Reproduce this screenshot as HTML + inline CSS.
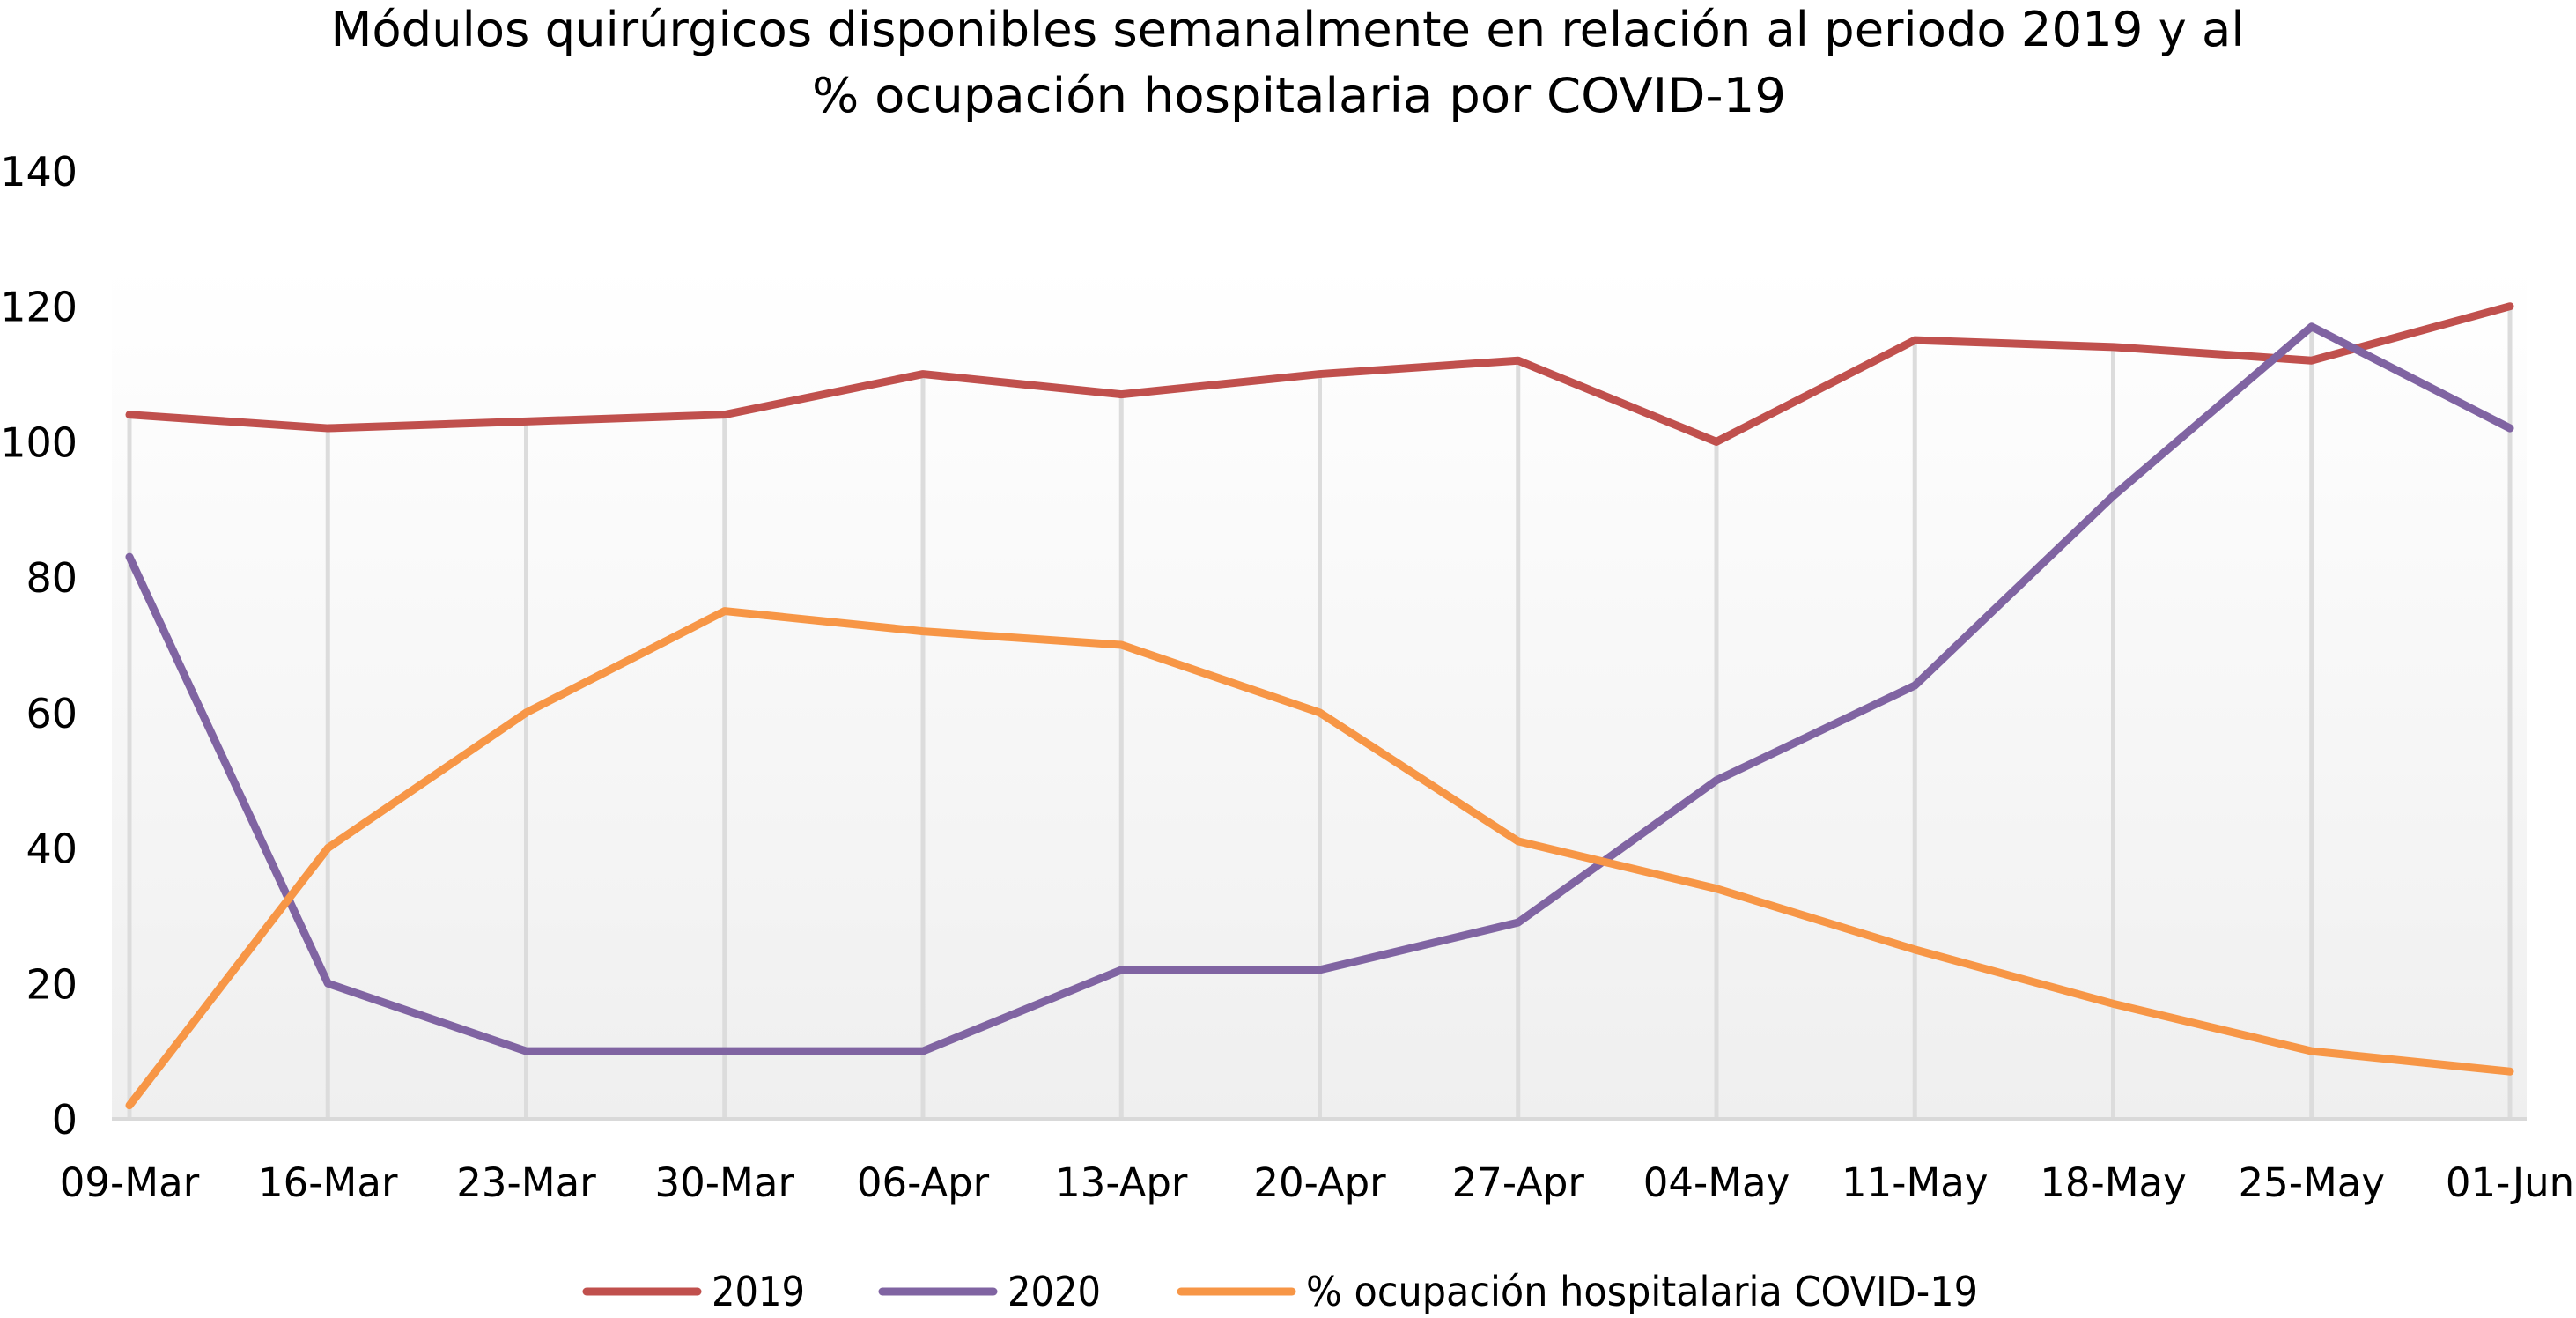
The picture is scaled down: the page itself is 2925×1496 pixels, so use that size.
<!DOCTYPE html>
<html><head><meta charset="utf-8">
<style>
html,body{margin:0;padding:0;background:#fff;}
svg{display:block;font-family:"DejaVu Sans","Liberation Sans",sans-serif;}
</style></head>
<body>
<svg id="chart" width="2925" height="1496" viewBox="0 0 2925 1496">
<defs>
<linearGradient id="bg" x1="0" y1="0" x2="0" y2="1">
<stop offset="0" stop-color="#ffffff"/>
<stop offset="1" stop-color="#efefef"/>
</linearGradient>
</defs>
<text x="1462" y="52" text-anchor="middle" font-size="54" fill="#000" textLength="2173" lengthAdjust="spacingAndGlyphs">Módulos quirúrgicos disponibles semanalmente en relación al periodo 2019 y al</text>
<text x="1475" y="127" text-anchor="middle" font-size="54" fill="#000" textLength="1106" lengthAdjust="spacingAndGlyphs">% ocupación hospitalaria por COVID-19</text>
<rect x="127" y="300" width="2742" height="970" fill="url(#bg)"/>
<g id="grid"></g>
<g id="yticks"></g>
<g id="xticks"></g>
<g id="series"></g>
<g id="legend"></g>
</svg>
<script>
const categories = ["09-Mar","16-Mar","23-Mar","30-Mar","06-Apr","13-Apr","20-Apr","27-Apr","04-May","11-May","18-May","25-May","01-Jun"];
const values2019 = [104,102,103,104,110,107,110,112,100,115,114,112,120];
const values2020 = [83,20,10,10,10,22,22,29,50,64,92,117,102];
const valuesCovid = [2,40,60,75,72,70,60,41,34,25,17,10,7];
const yTicks = [0,20,40,60,80,100,120,140];
const seriesNames = ["2019","2020","% ocupación hospitalaria COVID-19"];

const NS = "http://www.w3.org/2000/svg";
const x0 = 147, x1 = 2850, yZero = 1270, yTop = 194, yMax = 140;
function xPos(i){ return x0 + i*(x1-x0)/(categories.length-1); }
function yPos(v){ return yZero - v*(yZero-yTop)/yMax; }
function mk(tag, attrs, parent){ const e=document.createElementNS(NS,tag); for(const k in attrs) e.setAttribute(k,attrs[k]); parent.appendChild(e); return e; }

const grid=document.getElementById('grid');
categories.forEach((c,i)=>{
  const top=Math.max(values2019[i],values2020[i],valuesCovid[i]);
  const l=mk('line',{x1:xPos(i),x2:xPos(i),y1:yPos(top),y2:yZero,stroke:'#dcdcdc','stroke-width':5},grid);
  
  
});
const ax=mk('line',{x1:127,x2:2869,y1:yZero,y2:yZero,stroke:'#d9d9d9','stroke-width':4},grid);



const yt=document.getElementById('yticks');
yTicks.forEach(v=>{
  const t=mk('text',{x:88,y:yPos(v)+17,'text-anchor':'end','font-size':46,fill:'#000'},yt);
  t.textContent=v;
  
  
});
const xt=document.getElementById('xticks');
categories.forEach((c,i)=>{
  const t=mk('text',{x:xPos(i),y:1358,'text-anchor':'middle','font-size':45,fill:'#000'},xt);
  t.textContent=c;
  
  
});

const colors=['#c0504d','#8064a2','#f79646'];
const data=[values2019,values2020,valuesCovid];
const sg=document.getElementById('series');
data.forEach((arr,s)=>{
  const pts=arr.map((v,i)=>xPos(i)+','+yPos(v)).join(' ');
  const p=mk('polyline',{points:pts,fill:'none',stroke:colors[s],'stroke-width':9,'stroke-linejoin':'round','stroke-linecap':'round'},sg);
  
  
});

const lg=document.getElementById('legend');
const legX=[666,1002,1341];
const legW=[106,106,763];
seriesNames.forEach((n,s)=>{
  const g=mk('g',{},lg);
  
  
  mk('line',{x1:legX[s],x2:legX[s]+126,y1:1466,y2:1466,stroke:colors[s],'stroke-width':9,'stroke-linecap':'round'},g);
  const t=mk('text',{x:legX[s]+142,y:1482,'font-size':46,fill:'#000',textLength:legW[s],lengthAdjust:'spacingAndGlyphs'},g);
  t.textContent=n;
});
</script>
</body></html>
